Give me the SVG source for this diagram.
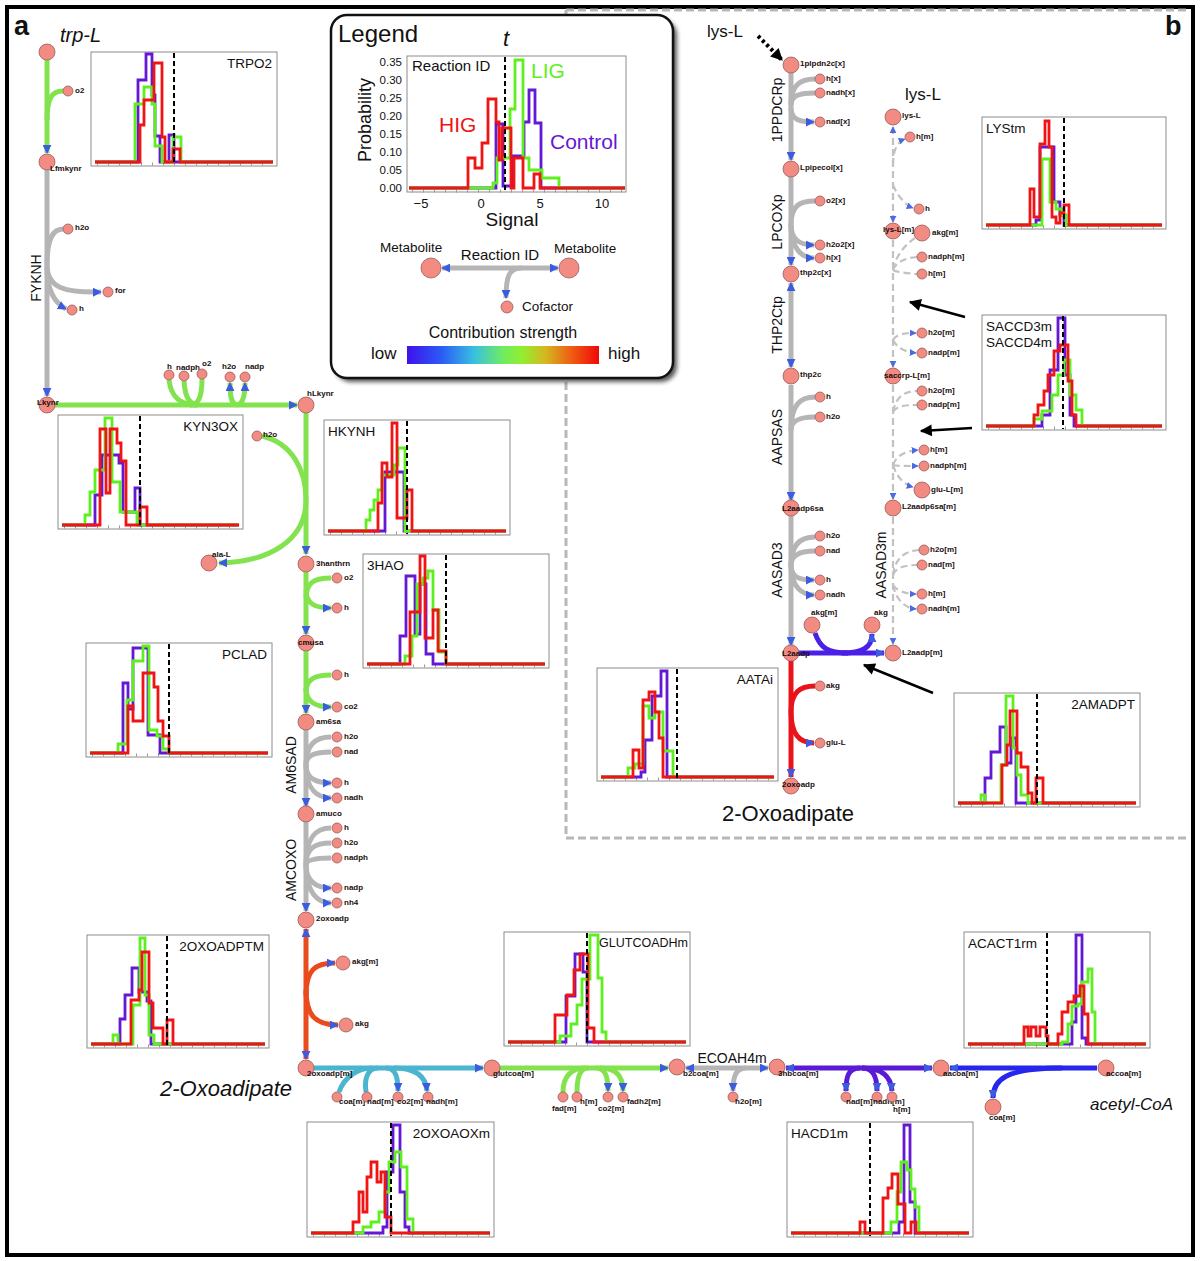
<svg xmlns="http://www.w3.org/2000/svg" width="1200" height="1261" viewBox="0 0 1200 1261">
<style>
text{font-family:'Liberation Sans',Arial,sans-serif;fill:#111}
.m{fill:#f28b82;stroke:#9a5a5a;stroke-width:0.8}
.l{font-size:8px;font-weight:bold;fill:#1a0d0d}
.rl{font-size:14px}
.hl{font-size:13.5px}
.c{fill:none;stroke-width:5}
.G{stroke:#82e34e}.Y{stroke:#b5b5b5}.R{stroke:#e8141a}.O{stroke:#e94b1c}.C{stroke:#4bb5cf}.P{stroke:#5a1ad6}.P2{stroke:#4a20e6}.B{stroke:#2626ec}
.dm{fill:none;stroke:#c2c2c2;stroke-width:2.2;stroke-dasharray:7 4}
.a{marker-end:url(#ah)}.s{marker-start:url(#ah)}
.as{marker-end:url(#ahs)}.ss{marker-start:url(#ahs)}
.hb{fill:#fff;stroke:#8c8c8c;stroke-width:1}
.tk{fill:none;stroke:#999;stroke-width:3;stroke-dasharray:1 10}
.hp{fill:none;stroke-width:2.8}
.pu{stroke:#6418d4}.gr{stroke:#5ef01e}.rd{stroke:#f01414}
.dsh{fill:none;stroke:#000;stroke-width:2;stroke-dasharray:5 3}
.blk{fill:none;stroke:#000;stroke-width:2.5;marker-end:url(#ak)}
</style>
<defs>
<marker id="ah" viewBox="0 0 10 10" refX="9" refY="5" markerWidth="9" markerHeight="9" markerUnits="userSpaceOnUse" orient="auto-start-reverse"><path d="M0,0 L10,5 L0,10 z" fill="#3b5be0"/></marker>
<marker id="ahs" viewBox="0 0 10 10" refX="9" refY="5" markerWidth="7" markerHeight="7" markerUnits="userSpaceOnUse" orient="auto-start-reverse"><path d="M0,0 L10,5 L0,10 z" fill="#4a6ae6"/></marker>
<marker id="ak" viewBox="0 0 10 10" refX="9" refY="5" markerWidth="14" markerHeight="12" markerUnits="userSpaceOnUse" orient="auto"><path d="M0,0 L10,5 L0,10 z" fill="#000"/></marker>
<linearGradient id="grad" x1="0" y1="0" x2="1" y2="0">
<stop offset="0" stop-color="#4010ec"/><stop offset="0.18" stop-color="#2a5cf6"/><stop offset="0.35" stop-color="#38c0e0"/><stop offset="0.5" stop-color="#70ec60"/><stop offset="0.6" stop-color="#92ee30"/><stop offset="0.72" stop-color="#d4b820"/><stop offset="0.86" stop-color="#f05a12"/><stop offset="1" stop-color="#f00808"/>
</linearGradient>
<filter id="blur" x="-10%" y="-10%" width="120%" height="120%"><feGaussianBlur stdDeviation="2"/></filter>
</defs>
<rect width="1200" height="1261" fill="#fff"/>
<rect x="7" y="7" width="1186" height="1248" fill="none" stroke="#000" stroke-width="4"/>
<path d="M566,10 V838 H1190 M566,10 H1190" fill="none" stroke="#b8b8b8" stroke-width="3" stroke-dasharray="8 4"/>
<text x="14" y="35" font-size="27" font-weight="bold">a</text>
<text x="1165" y="35" font-size="27" font-weight="bold">b</text>

<!-- Legend -->
<g id="legend">
<rect x="335" y="19" width="342" height="363" rx="16" fill="#222" filter="url(#blur)" opacity="0.75"/>
<rect x="331" y="15" width="342" height="363" rx="16" fill="#fff" stroke="#111" stroke-width="2.5"/>
<text x="338" y="42" font-size="24">Legend</text>
<text x="506" y="46" font-size="22" font-style="italic" text-anchor="middle">t</text>
<rect class="hb" x="407" y="56" width="219" height="136"/>
<path class="tk" d="M412,191 H626"/>
<g font-size="11.5" text-anchor="end">
<text x="402" y="66">0.35</text><text x="402" y="84">0.30</text><text x="402" y="102">0.25</text><text x="402" y="120">0.20</text><text x="402" y="138">0.15</text><text x="402" y="156">0.10</text><text x="402" y="174">0.05</text><text x="402" y="192">0.00</text>
</g>
<g font-size="13" text-anchor="middle">
<text x="421" y="208">−5</text><text x="481" y="208">0</text><text x="540" y="208">5</text><text x="602" y="208">10</text>
</g>
<text transform="translate(371,120) rotate(-90)" font-size="18" text-anchor="middle">Probability</text>
<text x="512" y="226" font-size="19" text-anchor="middle">Signal</text>
<path class="hp pu" d="M409,188 H496 V124 H503 V186 H512 V156 H524 V122 H529 V90 H535 V123 H541 V188 H625"/>
<path class="hp gr" d="M409,188 H493 V183 H497 V158 H510 V109 H515 V60 H523 V158 H529 V170 H542 V178 H559 V188 H625"/>
<path class="hp rd" d="M409,188 H468 V158 H475 V168 H482 V143 H488 V99 H496 V122 H499 V160 H502 V128 H511 V188 H514 V158 H523 V188 H534 V174 H540 V188 H625"/>
<path class="dsh" d="M505,57 V192"/>
<text x="412" y="71" font-size="15">Reaction ID</text>
<text x="531" y="78" font-size="21" style="fill:#5ef01e">LIG</text>
<text x="439" y="132" font-size="21" style="fill:#f01414">HIG</text>
<text x="550" y="149" font-size="21" style="fill:#6418d4">Control</text>
<text x="380" y="252" font-size="13.5">Metabolite</text>
<text x="500" y="260" font-size="15" text-anchor="middle">Reaction ID</text>
<text x="554" y="253" font-size="13.5">Metabolite</text>
<path class="c Y a s" d="M442,268 H558"/>
<path class="c Y a" d="M522,268 C509,268 506,276 506,298"/>
<circle class="m" cx="431" cy="268" r="10"/>
<circle class="m" cx="569" cy="268" r="10"/>
<circle class="m" cx="507" cy="307" r="6"/>
<text x="522" y="311" font-size="13.5">Cofactor</text>
<text x="503" y="338" font-size="16" text-anchor="middle">Contribution strength</text>
<text x="371" y="359" font-size="17">low</text>
<rect x="407" y="346" width="192" height="18" fill="url(#grad)"/>
<text x="608" y="359" font-size="17">high</text>
</g>

<!-- Histograms -->
<g id="h-TRPO2" transform="translate(91,52)"><rect class="hb" width="186" height="114"/><path class="tk" d="M6,112 H182"/>
<path class="hp pu" d="M4,110 H47 V28 H55 V2 H61 V43 H64 V84 H69 V110 H78 V83 H83 V110 H182"/>
<path class="hp gr" d="M4,110 H44 V52 H53 V35 H61 V52 H64 V94 H71 V110 H82 V85 H90 V110 H182"/>
<path class="hp rd" d="M4,110 H49 V73 H53 V48 H63 V11 H71 V85 H74 V110 H82 V97 H89 V110 H182"/>
<path class="dsh" d="M83,1 V113"/><text class="hl" x="181" y="16" text-anchor="end">TRPO2</text></g>

<g id="h-KYN3OX" transform="translate(58,415)"><rect class="hb" width="185" height="114"/><path class="tk" d="M6,112 H181"/>
<path class="hp pu" d="M4,110 H37 V80 H44 V40 H61 V48 H65 V97 H77 V73 H82 V110 H181"/>
<path class="hp gr" d="M4,110 H27 V100 H32 V77 H37 V55 H47 V3 H54 V67 H62 V97 H79 V110 H181"/>
<path class="hp rd" d="M4,110 H42 V14 H48 V78 H52 V14 H59 V28 H63 V46 H68 V110 H82 V92 H89 V110 H181"/>
<path class="dsh" d="M82,1 V113"/><text class="hl" x="180" y="16" text-anchor="end">KYN3OX</text></g>

<g id="h-HKYNH" transform="translate(324,420)"><rect class="hb" width="186" height="115"/><path class="tk" d="M6,113 H182"/>
<path class="hp pu" d="M4,111 H61 V52 H80 V111 H182"/>
<path class="hp gr" d="M4,111 H42 V100 H46 V90 H50 V80 H54 V70 H58 V55 H70 V45 H74 V28 H81 V111 H182"/>
<path class="hp rd" d="M4,111 H54 V83 H58 V43 H63 V57 H68 V3 H73 V98 H83 V70 H88 V111 H182"/>
<path class="dsh" d="M83,1 V114"/><text class="hl" x="4" y="16">HKYNH</text></g>

<g id="h-3HAO" transform="translate(363,554)"><rect class="hb" width="186" height="114"/><path class="tk" d="M6,112 H182"/>
<path class="hp pu" d="M4,110 H37 V82 H43 V22 H52 V80 H57 V30 H63 V100 H70 V110 H182"/>
<path class="hp gr" d="M4,110 H42 V102 H49 V82 H54 V30 H60 V24 H65 V17 H70 V56 H76 V98 H83 V110 H182"/>
<path class="hp rd" d="M4,110 H47 V58 H57 V2 H62 V84 H70 V56 H75 V97 H83 V110 H182"/>
<path class="dsh" d="M83,1 V113"/><text class="hl" x="4" y="16">3HAO</text></g>

<g id="h-PCLAD" transform="translate(86,643)"><rect class="hb" width="186" height="114"/><path class="tk" d="M6,112 H182"/>
<path class="hp pu" d="M4,110 H37 V40 H42 V66 H47 V5 H62 V92 H74 V110 H182"/>
<path class="hp gr" d="M4,110 H32 V101 H41 V57 H47 V18 H57 V3 H63 V87 H71 V93 H77 V106 H83 V110 H182"/>
<path class="hp rd" d="M4,110 H42 V63 H47 V78 H57 V30 H68 V44 H72 V78 H77 V93 H83 V110 H182"/>
<path class="dsh" d="M83,1 V113"/><text class="hl" x="181" y="16" text-anchor="end">PCLAD</text></g>

<g id="h-2OXOADPTM" transform="translate(87,935)"><rect class="hb" width="182" height="113"/><path class="tk" d="M6,111 H178"/>
<path class="hp pu" d="M4,109 H33 V84 H38 V60 H45 V33 H52 V57 H60 V66 H64 V109 H178"/>
<path class="hp gr" d="M4,109 H26 V100 H31 V109 H46 V70 H53 V3 H58 V60 H62 V100 H67 V109 H178"/>
<path class="hp rd" d="M4,109 H44 V65 H52 V55 H55 V17 H62 V68 H66 V93 H76 V109 H80 V85 H86 V109 H178"/>
<path class="dsh" d="M80,1 V112"/><text class="hl" x="177" y="16" text-anchor="end">2OXOADPTM</text></g>

<g id="h-GLUTCOADHm" transform="translate(504,932)"><rect class="hb" width="186" height="114"/><path class="tk" d="M6,112 H182"/>
<path class="hp pu" d="M4,110 H62 V64 H71 V22 H79 V40 H83 V110 H182"/>
<path class="hp gr" d="M4,110 H56 V104 H67 V92 H73 V73 H78 V47 H86 V3 H94 V46 H98 V100 H102 V110 H182"/>
<path class="hp rd" d="M4,110 H51 V83 H63 V63 H70 V38 H76 V22 H84 V96 H90 V110 H182"/>
<path class="dsh" d="M83,1 V113"/><text x="184" y="15" font-size="12.5" text-anchor="end">GLUTCOADHm</text></g>

<g id="h-2OXOAOXm" transform="translate(307,1122)"><rect class="hb" width="187" height="115"/><path class="tk" d="M6,113 H183"/>
<path class="hp pu" d="M4,111 H76 V105 H80 V50 H86 V3 H93 V70 H98 V105 H102 V111 H183"/>
<path class="hp gr" d="M4,111 H56 V105 H64 V100 H72 V90 H78 V70 H82 V40 H88 V30 H94 V45 H100 V97 H106 V111 H183"/>
<path class="hp rd" d="M4,111 H46 V100 H52 V70 H56 V90 H60 V55 H64 V40 H70 V60 H74 V50 H78 V95 H84 V111 H183"/>
<path class="dsh" d="M84,1 V114"/><text class="hl" x="183" y="16" text-anchor="end">2OXOAOXm</text></g>

<g id="h-ACACT1rm" transform="translate(964,932)"><rect class="hb" width="186" height="116"/><path class="tk" d="M6,114 H182"/>
<path class="hp pu" d="M4,112 H108 V90 H112 V3 H118 V106 H122 V112 H182"/>
<path class="hp gr" d="M4,112 H98 V110 H104 V92 H108 V74 H114 V72 H118 V50 H124 V37 H128 V80 H131 V112 H182"/>
<path class="hp rd" d="M4,112 H60 V95 H64 V104 H67 V95 H72 V104 H76 V95 H82 V104 H84 V112 H94 V102 H98 V80 H104 V70 H110 V64 H116 V54 H120 V82 H124 V112 H182"/>
<path class="dsh" d="M83,1 V115"/><text class="hl" x="4" y="16">ACACT1rm</text></g>

<g id="h-HACD1m" transform="translate(787,1122)"><rect class="hb" width="186" height="115"/><path class="tk" d="M6,113 H182"/>
<path class="hp pu" d="M4,111 H112 V100 H117 V3 H123 V80 H128 V111 H182"/>
<path class="hp gr" d="M4,111 H104 V100 H110 V70 H114 V40 H120 V48 H124 V67 H128 V85 H132 V111 H182"/>
<path class="hp rd" d="M4,111 H73 V100 H78 V111 H96 V76 H101 V66 H105 V52 H111 V82 H118 V111 H124 V100 H129 V111 H182"/>
<path class="dsh" d="M83,1 V114"/><text class="hl" x="4" y="16">HACD1m</text></g>

<g id="h-AATAi" transform="translate(597,668)"><rect class="hb" width="181" height="113"/><path class="tk" d="M6,111 H177"/>
<path class="hp pu" d="M4,109 H44 V104 H48 V72 H55 V28 H64 V3 H70 V109 H177"/>
<path class="hp gr" d="M4,109 H31 V100 H38 V96 H46 V38 H52 V50 H58 V44 H66 V83 H76 V109 H177"/>
<path class="hp rd" d="M4,109 H36 V82 H42 V100 H46 V32 H52 V24 H58 V44 H62 V70 H66 V109 H177"/>
<path class="dsh" d="M80,1 V112"/><text class="hl" x="176" y="16" text-anchor="end">AATAi</text></g>

<g id="h-2AMADPT" transform="translate(954,693)"><rect class="hb" width="186" height="114"/><path class="tk" d="M6,112 H182"/>
<path class="hp pu" d="M4,110 H31 V85 H37 V59 H46 V34 H52 V70 H57 V45 H62 V110 H182"/>
<path class="hp gr" d="M4,110 H27 V102 H31 V110 H47 V72 H52 V3 H59 V55 H63 V82 H67 V102 H74 V110 H182"/>
<path class="hp rd" d="M4,110 H48 V72 H53 V52 H56 V18 H63 V60 H67 V74 H74 V100 H78 V110 H82 V85 H89 V110 H182"/>
<path class="dsh" d="M83,1 V113"/><text class="hl" x="181" y="16" text-anchor="end">2AMADPT</text></g>

<g id="h-LYStm" transform="translate(982,117)"><rect class="hb" width="184" height="112"/><path class="tk" d="M6,110 H180"/>
<path class="hp pu" d="M4,108 H54 V103 H58 V30 H68 V30 H72 V85 H78 V98 H82 V108 H180"/>
<path class="hp gr" d="M4,108 H60 V42 H66 V42 H68 V85 H74 V92 H80 V98 H84 V108 H180"/>
<path class="hp rd" d="M4,108 H48 V72 H52 V100 H58 V27 H63 V4 H67 V30 H70 V100 H74 V106 H78 V96 H82 V88 H87 V108 H180"/>
<path class="dsh" d="M82,1 V111"/><text class="hl" x="4" y="16">LYStm</text></g>

<g id="h-SACCD" transform="translate(982,315)"><rect class="hb" width="184" height="115"/><path class="tk" d="M6,113 H180"/>
<path class="hp pu" d="M4,111 H60 V100 H68 V55 H76 V3 H83 V60 H88 V100 H92 V111 H180"/>
<path class="hp gr" d="M4,111 H52 V104 H60 V96 H70 V80 H76 V60 H82 V45 H88 V80 H94 V95 H100 V111 H180"/>
<path class="hp rd" d="M4,111 H52 V100 H56 V90 H62 V76 H66 V60 H72 V36 H78 V30 H86 V66 H90 V100 H94 V111 H180"/>
<path class="dsh" d="M81,1 V114"/><text class="hl" x="4" y="16">SACCD3m</text><text class="hl" x="4" y="32">SACCD4m</text></g>

<!-- Connectors -->
<g id="connectors">
<path class="c G a" d="M47,60 V153"/>
<path class="c G" d="M47,120 C47,98 52,91 63,91"/>
<path class="c Y a" d="M47,170 V396"/>
<path class="c Y" d="M47,265 C47,240 52,229 63,229"/>
<path class="c Y a" d="M47,265 C47,288 65,293 101,292"/>
<path class="c Y a" d="M47,268 C47,290 55,303 66,309"/>
<path class="c G a" d="M55,405 H297"/>
<path class="c G" d="M169,380 C171,398 182,405 196,405"/>
<path class="c G" d="M184,381 C185,398 190,405 198,405"/>
<path class="c G" d="M202,379 C202,398 198,405 190,405"/>
<path class="c G a" d="M237,405 C231,404 230,396 230,383"/>
<path class="c G a" d="M237,405 C243,404 245,396 245,383"/>
<path class="c G a" d="M306,413 V554"/>
<path class="c G a" d="M262,436 C292,443 306,470 306,500 C306,540 270,562 219,563"/>
<path class="c G a" d="M306,572 V634"/>
<path class="c G" d="M306,598 C306,582 315,578 331,578"/>
<path class="c G a" d="M306,590 C306,604 315,608 331,608"/>
<path class="c G a" d="M306,651 V713"/>
<path class="c G" d="M306,692 C306,679 315,675 331,675"/>
<path class="c G a" d="M306,688 C306,702 315,707 331,707"/>
<path class="c Y a" d="M306,730 V806"/>
<path class="c Y" d="M306,765 C306,745 315,737 331,737"/>
<path class="c Y" d="M306,765 C306,755 315,752 331,752"/>
<path class="c Y a" d="M306,765 C306,778 315,783 331,783"/>
<path class="c Y a" d="M306,765 C306,790 318,798 331,798"/>
<path class="c Y a" d="M306,822 V911"/>
<path class="c Y" d="M306,865 C306,838 315,828 331,828"/>
<path class="c Y" d="M306,865 C306,848 315,843 331,843"/>
<path class="c Y" d="M306,865 C306,860 315,858 331,858"/>
<path class="c Y a" d="M306,865 C306,880 315,888 331,888"/>
<path class="c Y a" d="M306,865 C306,893 318,903 331,903"/>
<path class="c O a s" d="M306,929 V1059"/>
<path class="c O a" d="M306,995 C306,970 315,963 335,963"/>
<path class="c O a" d="M306,990 C306,1015 315,1025 338,1025"/>
<path class="c C a" d="M314,1068 H483"/>
<path class="c C" d="M339,1092 C345,1075 360,1068 372,1068"/>
<path class="c C" d="M366,1092 C364,1078 368,1068 378,1068"/>
<path class="c C a" d="M386,1068 C396,1068 398,1078 398,1091"/>
<path class="c C a" d="M394,1068 C418,1068 426,1078 427,1091"/>
<path class="c G a" d="M500,1068 H668"/>
<path class="c G" d="M563,1092 C563,1076 572,1068 585,1068"/>
<path class="c G" d="M577,1092 C577,1076 580,1068 588,1068"/>
<path class="c G a" d="M596,1068 C606,1068 608,1078 608,1091"/>
<path class="c G a" d="M600,1068 C618,1068 623,1078 623,1091"/>
<path class="c Y a s" d="M686,1068 H768"/>
<path class="c Y a" d="M746,1068 C736,1068 733,1076 733,1091"/>
<path class="c P a s" d="M786,1068 H932"/>
<path class="c P a" d="M860,1068 C848,1068 846,1077 846,1091"/>
<path class="c P a" d="M862,1068 C874,1068 877,1078 877,1091"/>
<path class="c P a" d="M862,1068 C884,1068 891,1078 892,1091"/>
<path class="c B a" d="M1097,1068 H950"/>
<path class="c B a" d="M1062,1068 C1005,1068 993,1080 993,1098"/>

<path class="c Y a" d="M791,73 V160"/>
<path class="c Y" d="M791,105 C791,85 800,79 815,79"/>
<path class="c Y" d="M791,105 C791,95 800,93 815,93"/>
<path class="c Y a" d="M791,108 C791,120 800,122 814,122"/>
<path class="c Y a" d="M791,177 V265"/>
<path class="c Y" d="M791,225 C791,205 800,201 815,201"/>
<path class="c Y a" d="M791,225 C791,240 800,245 814,245"/>
<path class="c Y a" d="M791,225 C791,250 803,258 814,258"/>
<path class="c Y a s" d="M791,283 V367"/>
<path class="c Y a" d="M791,385 V500"/>
<path class="c Y" d="M791,430 C791,405 800,397 815,397"/>
<path class="c Y" d="M791,430 C791,420 800,417 815,417"/>
<path class="c Y a" d="M791,516 V645"/>
<path class="c Y" d="M791,565 C791,545 800,537 815,537"/>
<path class="c Y" d="M791,565 C791,555 800,551 815,551"/>
<path class="c Y a" d="M791,565 C791,578 800,580 814,580"/>
<path class="c Y a" d="M791,565 C791,588 803,595 814,595"/>
<path class="c R a" d="M791,661 V777"/>
<path class="c R" d="M791,712 C791,692 800,686 815,686"/>
<path class="c R a" d="M791,712 C791,735 800,743 814,743"/>
<path class="c P2 a" d="M799,653 H884"/>
<path class="c P2" d="M815,633 C820,648 828,653 848,653"/>
<path class="c P2 a" d="M842,653 C862,653 872,648 872,634"/>

<path class="dm as ss" d="M893,127 V222"/>
<path class="dm as" d="M893,165 C893,150 897,142 905,139"/>
<path class="dm as" d="M893,185 C897,195 905,205 913,208"/>
<path class="dm as" d="M893,240 V367"/>
<path class="dm" d="M893,270 C896,255 905,245 915,238"/>
<path class="dm" d="M893,270 C896,262 905,258 917,257"/>
<path class="dm" d="M893,270 C896,272 905,273 917,274"/>
<path class="dm as" d="M893,340 C896,334 905,333 916,333"/>
<path class="dm as" d="M893,340 C897,348 905,352 916,353"/>
<path class="dm as" d="M893,385 V499"/>
<path class="dm" d="M893,412 C896,396 905,391 917,391"/>
<path class="dm" d="M893,412 C896,406 905,405 917,405"/>
<path class="dm as" d="M893,465 C896,456 905,451 918,450"/>
<path class="dm as" d="M893,465 C896,466 905,466 918,466"/>
<path class="dm as" d="M893,465 C897,478 905,485 913,487"/>
<path class="dm as" d="M893,517 V644"/>
<path class="dm" d="M893,575 C895,558 905,551 919,550"/>
<path class="dm" d="M893,575 C895,568 905,565 917,565"/>
<path class="dm as" d="M893,585 C896,590 905,594 916,594"/>
<path class="dm as" d="M893,585 C896,600 905,608 916,609"/>

<path class="blk" d="M965,317 L910,302"/>
<path class="blk" d="M972,428 L921,431"/>
<path class="blk" d="M933,693 L864,665"/>
<path d="M758,36 L782,60" fill="none" stroke="#000" stroke-width="4" stroke-dasharray="3 3" marker-end="url(#ak)"/>
</g>

<!-- Panel a nodes -->
<g id="n-trpL"><circle class="m" cx="47" cy="52" r="8"/><text x="60" y="42" font-size="20" font-style="italic">trp-L</text></g>
<g id="n-o2a"><circle class="m" cx="68" cy="91" r="5"/><text class="l" x="75" y="93">o2</text></g>
<g id="n-Lfmkynr"><circle class="m" cx="47" cy="162" r="8"/><text class="l" x="50" y="171">Lfmkynr</text></g>
<g id="n-h2oa"><circle class="m" cx="68" cy="229" r="5"/><text class="l" x="75" y="230">h2o</text></g>
<g id="n-for"><circle class="m" cx="108" cy="292" r="5"/><text class="l" x="115" y="293">for</text></g>
<g id="n-ha"><circle class="m" cx="72" cy="310" r="5"/><text class="l" x="79" y="311">h</text></g>
<g id="n-Lkynr"><circle class="m" cx="47" cy="405" r="8"/><text class="l" x="37" y="405">Lkynr</text></g>
<g id="n-hb"><circle class="m" cx="169" cy="375" r="5"/><text class="l" x="167" y="369">h</text></g>
<g id="n-nadpha"><circle class="m" cx="184" cy="376" r="5"/><text class="l" x="176" y="370">nadph</text></g>
<g id="n-o2b"><circle class="m" cx="202" cy="374" r="5"/><text class="l" x="202" y="366">o2</text></g>
<g id="n-h2ob"><circle class="m" cx="230" cy="377" r="5"/><text class="l" x="222" y="369">h2o</text></g>
<g id="n-nadpa"><circle class="m" cx="245" cy="377" r="5"/><text class="l" x="245" y="369">nadp</text></g>
<g id="n-hLkynr"><circle class="m" cx="306" cy="405" r="8"/><text class="l" x="307" y="396">hLkynr</text></g>
<g id="n-h2oc"><circle class="m" cx="257" cy="436" r="5"/><text class="l" x="263" y="437">h2o</text></g>
<g id="n-alaL"><circle class="m" cx="209" cy="563" r="8"/><text class="l" x="212" y="557">ala-L</text></g>
<g id="n-3hanthrn"><circle class="m" cx="306" cy="564" r="8"/><text class="l" x="316" y="566">3hanthrn</text></g>
<g id="n-o2c"><circle class="m" cx="337" cy="578" r="5"/><text class="l" x="344" y="580">o2</text></g>
<g id="n-hc"><circle class="m" cx="337" cy="608" r="5"/><text class="l" x="344" y="610">h</text></g>
<g id="n-cmusa"><circle class="m" cx="306" cy="643" r="8"/><text class="l" x="298" y="645">cmusa</text></g>
<g id="n-hd"><circle class="m" cx="337" cy="675" r="5"/><text class="l" x="344" y="677">h</text></g>
<g id="n-co2a"><circle class="m" cx="337" cy="707" r="5"/><text class="l" x="344" y="709">co2</text></g>
<g id="n-am6sa"><circle class="m" cx="306" cy="722" r="8"/><text class="l" x="316" y="724">am6sa</text></g>
<g id="n-h2od"><circle class="m" cx="337" cy="737" r="5"/><text class="l" x="344" y="739">h2o</text></g>
<g id="n-nada"><circle class="m" cx="337" cy="752" r="5"/><text class="l" x="344" y="754">nad</text></g>
<g id="n-he"><circle class="m" cx="337" cy="783" r="5"/><text class="l" x="344" y="785">h</text></g>
<g id="n-nadha"><circle class="m" cx="337" cy="798" r="5"/><text class="l" x="344" y="800">nadh</text></g>
<g id="n-amuco"><circle class="m" cx="306" cy="814" r="8"/><text class="l" x="316" y="816">amuco</text></g>
<g id="n-hf"><circle class="m" cx="337" cy="828" r="5"/><text class="l" x="344" y="830">h</text></g>
<g id="n-h2oe"><circle class="m" cx="337" cy="843" r="5"/><text class="l" x="344" y="845">h2o</text></g>
<g id="n-nadphb"><circle class="m" cx="337" cy="858" r="5"/><text class="l" x="344" y="860">nadph</text></g>
<g id="n-nadpb"><circle class="m" cx="337" cy="888" r="5"/><text class="l" x="344" y="890">nadp</text></g>
<g id="n-nh4"><circle class="m" cx="337" cy="903" r="5"/><text class="l" x="344" y="905">nh4</text></g>
<g id="n-2oxoadp"><circle class="m" cx="306" cy="920" r="8"/><text class="l" x="316" y="921">2oxoadp</text></g>
<g id="n-akgma"><circle class="m" cx="343" cy="963" r="7"/><text class="l" x="352" y="964">akg[m]</text></g>
<g id="n-akga"><circle class="m" cx="346" cy="1025" r="7"/><text class="l" x="355" y="1026">akg</text></g>
<g id="n-2oxoadpm"><circle class="m" cx="306" cy="1068" r="8"/><text class="l" x="307" y="1076">2oxoadp[m]</text></g>
<text x="160" y="1096" font-size="22" font-style="italic">2-Oxoadipate</text>
<g id="n-coama"><circle class="m" cx="337" cy="1097" r="5"/><text class="l" x="339" y="1104">coa[m]</text></g>
<g id="n-nadma"><circle class="m" cx="367" cy="1097" r="5"/><text class="l" x="367" y="1104">nad[m]</text></g>
<g id="n-co2ma"><circle class="m" cx="398" cy="1097" r="5"/><text class="l" x="397" y="1104">co2[m]</text></g>
<g id="n-nadhma"><circle class="m" cx="428" cy="1097" r="5"/><text class="l" x="426" y="1104">nadh[m]</text></g>
<g id="n-glutcoam"><circle class="m" cx="492" cy="1068" r="8"/><text class="l" x="493" y="1076">glutcoa[m]</text></g>
<g id="n-fadm"><circle class="m" cx="563" cy="1097" r="5"/><text class="l" x="552" y="1111">fad[m]</text></g>
<g id="n-hmb"><circle class="m" cx="577" cy="1097" r="5"/><text class="l" x="580" y="1104">h[m]</text></g>
<g id="n-co2mb"><circle class="m" cx="608" cy="1097" r="5"/><text class="l" x="598" y="1111">co2[m]</text></g>
<g id="n-fadh2m"><circle class="m" cx="623" cy="1097" r="5"/><text class="l" x="627" y="1104">fadh2[m]</text></g>
<g id="n-b2coam"><circle class="m" cx="677" cy="1067" r="8"/><text class="l" x="683" y="1076">b2coa[m]</text></g>
<text x="732" y="1063" font-size="14" text-anchor="middle">ECOAH4m</text>
<g id="n-h2om"><circle class="m" cx="733" cy="1097" r="5"/><text class="l" x="735" y="1104">h2o[m]</text></g>
<g id="n-3hbcoam"><circle class="m" cx="777" cy="1067" r="8"/><text class="l" x="778" y="1076">3hbcoa[m]</text></g>
<g id="n-nadmb"><circle class="m" cx="846" cy="1097" r="5"/><text class="l" x="846" y="1104">nad[m]</text></g>
<g id="n-nadhmb"><circle class="m" cx="877" cy="1097" r="5"/><text class="l" x="873" y="1104">nadh[m]</text></g>
<g id="n-hmc"><circle class="m" cx="892" cy="1097" r="5"/><text class="l" x="893" y="1112">h[m]</text></g>
<g id="n-aacoam"><circle class="m" cx="941" cy="1068" r="8"/><text class="l" x="943" y="1076">aacoa[m]</text></g>
<g id="n-accoam"><circle class="m" cx="1106" cy="1068" r="8"/><text class="l" x="1106" y="1076">accoa[m]</text></g>
<g id="n-coamb"><circle class="m" cx="993" cy="1107" r="8"/><text class="l" x="989" y="1120">coa[m]</text></g>
<text x="1090" y="1110" font-size="17" font-style="italic">acetyl-CoA</text>

<!-- Reaction labels panel a -->
<text class="rl" transform="translate(41,278) rotate(-90)" text-anchor="middle">FYKNH</text>
<text class="rl" transform="translate(296,765) rotate(-90)" text-anchor="middle">AM6SAD</text>
<text class="rl" transform="translate(296,870) rotate(-90)" text-anchor="middle">AMCOXO</text>

<!-- Panel b -->
<text x="707" y="37" font-size="17">lys-L</text>
<g id="n-1plpdn2cx"><circle class="m" cx="791" cy="65" r="8"/><text class="l" x="800" y="66">1plpdn2c[x]</text></g>
<g id="n-hx1"><circle class="m" cx="820" cy="79" r="5"/><text class="l" x="826" y="81">h[x]</text></g>
<g id="n-nadhx"><circle class="m" cx="820" cy="93" r="5"/><text class="l" x="826" y="95">nadh[x]</text></g>
<g id="n-nadx"><circle class="m" cx="820" cy="122" r="5"/><text class="l" x="826" y="124">nad[x]</text></g>
<g id="n-Lpipecolx"><circle class="m" cx="791" cy="169" r="8"/><text class="l" x="800" y="170">Lpipecol[x]</text></g>
<g id="n-o2x"><circle class="m" cx="820" cy="201" r="5"/><text class="l" x="826" y="203">o2[x]</text></g>
<g id="n-h2o2x"><circle class="m" cx="820" cy="245" r="5"/><text class="l" x="826" y="247">h2o2[x]</text></g>
<g id="n-hx2"><circle class="m" cx="820" cy="258" r="5"/><text class="l" x="826" y="260">h[x]</text></g>
<g id="n-thp2cx"><circle class="m" cx="791" cy="274" r="8"/><text class="l" x="800" y="275">thp2c[x]</text></g>
<g id="n-thp2c"><circle class="m" cx="791" cy="376" r="8"/><text class="l" x="800" y="377">thp2c</text></g>
<g id="n-hg"><circle class="m" cx="820" cy="397" r="5"/><text class="l" x="826" y="399">h</text></g>
<g id="n-h2of"><circle class="m" cx="820" cy="417" r="5"/><text class="l" x="826" y="419">h2o</text></g>
<g id="n-L2aadp6sa"><circle class="m" cx="791" cy="508" r="8"/><text class="l" x="782" y="511">L2aadp6sa</text></g>
<g id="n-h2og"><circle class="m" cx="820" cy="536" r="5"/><text class="l" x="826" y="538">h2o</text></g>
<g id="n-nadb"><circle class="m" cx="820" cy="551" r="5"/><text class="l" x="826" y="553">nad</text></g>
<g id="n-hh"><circle class="m" cx="820" cy="580" r="5"/><text class="l" x="826" y="582">h</text></g>
<g id="n-nadhb"><circle class="m" cx="820" cy="595" r="5"/><text class="l" x="826" y="597">nadh</text></g>
<g id="n-akgmb"><circle class="m" cx="812" cy="625" r="8"/><text class="l" x="811" y="615">akg[m]</text></g>
<g id="n-akgb"><circle class="m" cx="872" cy="625" r="8"/><text class="l" x="874" y="615">akg</text></g>
<g id="n-L2aadp"><circle class="m" cx="791" cy="653" r="8"/><text class="l" x="782" y="656">L2aadp</text></g>
<g id="n-L2aadpm"><circle class="m" cx="893" cy="653" r="8"/><text class="l" x="902" y="655">L2aadp[m]</text></g>
<g id="n-akgc"><circle class="m" cx="820" cy="686" r="5"/><text class="l" x="826" y="688">akg</text></g>
<g id="n-gluL"><circle class="m" cx="820" cy="743" r="5"/><text class="l" x="826" y="745">glu-L</text></g>
<g id="n-2oxoadpb"><circle class="m" cx="791" cy="786" r="8"/><text class="l" x="782" y="787">2oxoadp</text></g>
<text x="722" y="821" font-size="22">2-Oxoadipate</text>

<text x="905" y="100" font-size="17">lys-L</text>
<g id="n-lysL"><circle class="m" cx="893" cy="117" r="8"/><text class="l" x="902" y="118">lys-L</text></g>
<g id="n-hm1"><circle class="m" cx="910" cy="137" r="5"/><text class="l" x="916" y="139">h[m]</text></g>
<g id="n-hi"><circle class="m" cx="919" cy="209" r="5"/><text class="l" x="925" y="211">h</text></g>
<g id="n-lysLm"><circle class="m" cx="893" cy="231" r="8"/><text class="l" x="883" y="232">lys-L[m]</text></g>
<g id="n-akgmc"><circle class="m" cx="922" cy="233" r="8"/><text class="l" x="932" y="235">akg[m]</text></g>
<g id="n-nadphm1"><circle class="m" cx="922" cy="257" r="5"/><text class="l" x="928" y="259">nadph[m]</text></g>
<g id="n-hm2"><circle class="m" cx="922" cy="274" r="5"/><text class="l" x="928" y="276">h[m]</text></g>
<g id="n-h2om1"><circle class="m" cx="922" cy="333" r="5"/><text class="l" x="928" y="335">h2o[m]</text></g>
<g id="n-nadpm1"><circle class="m" cx="922" cy="353" r="5"/><text class="l" x="928" y="355">nadp[m]</text></g>
<g id="n-saccrpLm"><circle class="m" cx="893" cy="376" r="8"/><text class="l" x="884" y="378">saccrp-L[m]</text></g>
<g id="n-h2om2"><circle class="m" cx="922" cy="391" r="5"/><text class="l" x="928" y="393">h2o[m]</text></g>
<g id="n-nadpm2"><circle class="m" cx="922" cy="405" r="5"/><text class="l" x="928" y="407">nadp[m]</text></g>
<g id="n-hm3"><circle class="m" cx="924" cy="450" r="5"/><text class="l" x="930" y="452">h[m]</text></g>
<g id="n-nadphm2"><circle class="m" cx="924" cy="466" r="5"/><text class="l" x="930" y="468">nadph[m]</text></g>
<g id="n-gluLm"><circle class="m" cx="922" cy="490" r="8"/><text class="l" x="931" y="492">glu-L[m]</text></g>
<g id="n-L2aadp6sam"><circle class="m" cx="893" cy="508" r="8"/><text class="l" x="902" y="509">L2aadp6sa[m]</text></g>
<g id="n-h2om3"><circle class="m" cx="924" cy="550" r="5"/><text class="l" x="930" y="552">h2o[m]</text></g>
<g id="n-nadm3"><circle class="m" cx="922" cy="565" r="5"/><text class="l" x="928" y="567">nad[m]</text></g>
<g id="n-hm4"><circle class="m" cx="922" cy="594" r="5"/><text class="l" x="928" y="596">h[m]</text></g>
<g id="n-nadhm3"><circle class="m" cx="922" cy="609" r="5"/><text class="l" x="928" y="611">nadh[m]</text></g>

<text class="rl" transform="translate(782,110) rotate(-90)" text-anchor="middle">1PPDCRp</text>
<text class="rl" transform="translate(782,222) rotate(-90)" text-anchor="middle">LPCOXp</text>
<text class="rl" transform="translate(782,325) rotate(-90)" text-anchor="middle">THP2Ctp</text>
<text class="rl" transform="translate(782,437) rotate(-90)" text-anchor="middle">AAPSAS</text>
<text class="rl" transform="translate(782,570) rotate(-90)" text-anchor="middle">AASAD3</text>
<text class="rl" transform="translate(886,565) rotate(-90)" text-anchor="middle">AASAD3m</text>
</svg>
